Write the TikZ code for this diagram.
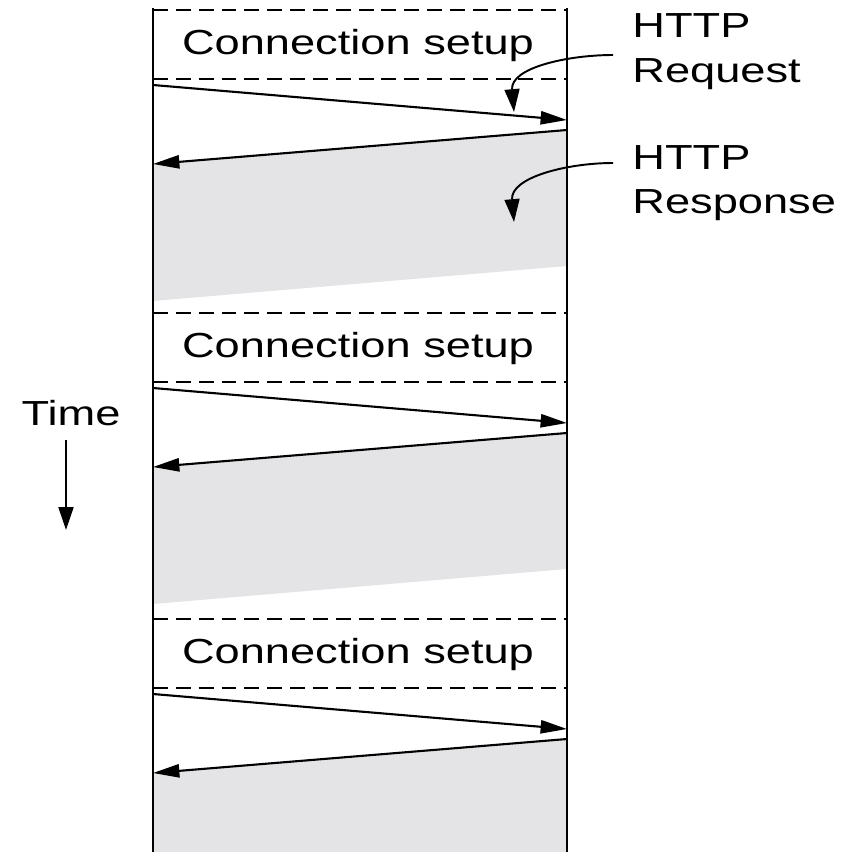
\documentclass[tikz,border=0pt]{standalone}
\usepackage{fontspec}
\setmainfont{Liberation Sans}
\usepackage{graphicx}
\usetikzlibrary{arrows.meta}
\definecolor{fillgray}{RGB}{228,228,231}
\newcommand{\wtext}[1]{\scalebox{1.3}[1]{#1}}

\begin{document}
\begin{tikzpicture}[x=0.02cm,y=-0.02cm,>={Triangle[length=15pt,width=7.5pt]}]
  \tikzstyle{lbl}=[inner sep=0pt,font=\fontsize{19.8}{25.5}\selectfont]
  \tikzstyle{msg}=[line width=1.2pt,->]
  \tikzstyle{sep}=[line width=0.9pt,dash pattern=on 8.5pt off 4.5pt]
  \tikzstyle{pointer}=[line width=1.1pt,-{Triangle[length=13pt,width=8.5pt]}]
  \clip (0,0) rectangle (844,852);

  \foreach \t/\n in {9/1,312/2,618/3} {
    \coordinate (reqL_\n) at (153,\t+76);
    \coordinate (reqR_\n) at (567,\t+111);
    \coordinate (resR_\n) at (567,\t+121);
    \coordinate (resL_\n) at (153,\t+155);
    \fill[fillgray] (resR_\n) -- (resL_\n) -- (153,\t+292) -- (567,\t+257) -- cycle;
    \draw[sep] (153,\t+1) -- (567,\t+1);
    \draw[sep] (153,\t+70) -- (567,\t+70);
    \node[lbl,anchor=base] (setup_\n) at (358,\t+45) {\wtext{Connection setup}};
    \draw[msg] (reqL_\n) -- (reqR_\n);
    \draw[msg] (resR_\n) -- (resL_\n);
  }

  \draw[line width=1.3pt] (153,8) -- (153,852);
  \draw[line width=1.3pt] (567,8) -- (567,852);

  \node[lbl,anchor=base west] (http_1) at (632,37) {\wtext{HTTP}};
  \node[lbl,anchor=base west] (request) at (632,82) {\wtext{Request}};
  \node[lbl,anchor=base west] (http_2) at (632,169) {\wtext{HTTP}};
  \node[lbl,anchor=base west] (response) at (632,213) {\wtext{Response}};

  \coordinate (reqtail) at (613,55);
  \coordinate (reqtip) at (514,112);
  \coordinate (restail) at (613,163);
  \coordinate (restip) at (514,222);
  \draw[pointer] (reqtail) to[out=180,in=95] (reqtip);
  \draw[pointer] (restail) to[out=180,in=95] (restip);

  \node[lbl,anchor=base] (time) at (71,425) {\wtext{Time}};
  \coordinate (timestart) at (66,440);
  \coordinate (timeend) at (66,530);
  \draw[pointer] (timestart) -- (timeend);
\end{tikzpicture}
\end{document}
